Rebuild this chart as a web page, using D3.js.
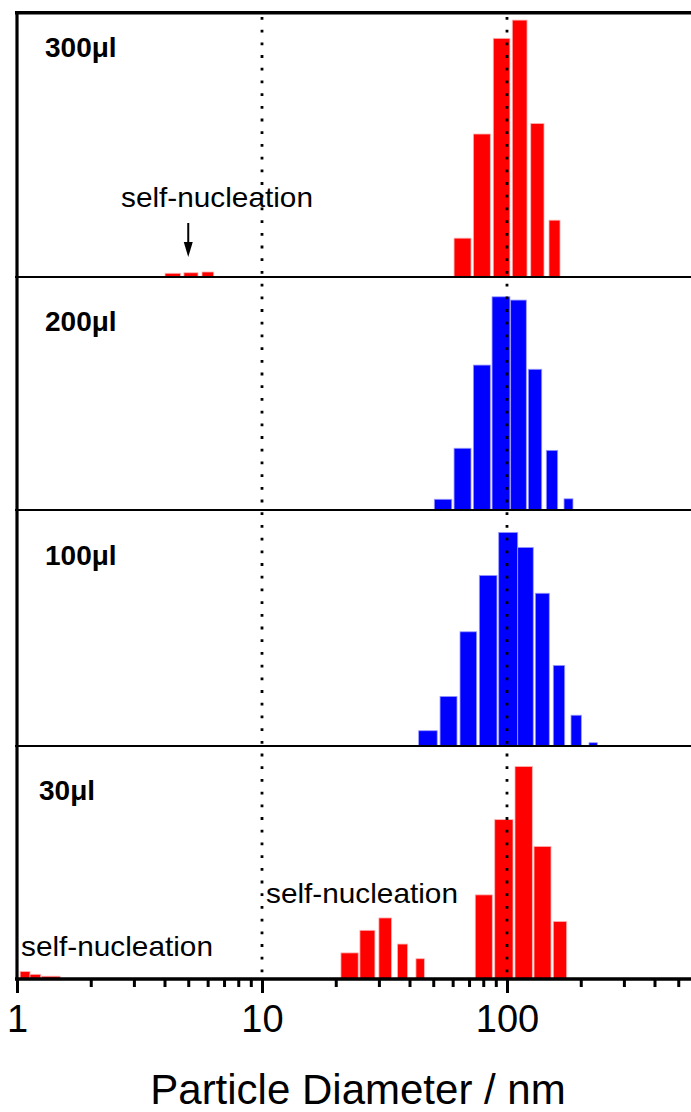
<!DOCTYPE html>
<html>
<head>
<meta charset="utf-8">
<script src="https://cdn.jsdelivr.net/npm/d3@7"></script>
<style>
  body { margin: 0; background: #fff; }
  svg { display: block; font-family: "Liberation Sans", Arial, sans-serif; }
</style>
</head>
<body>
<svg id="chart" width="691" height="1112"></svg>
<script>
// panel names, top to bottom
const volumes = ["300\u03bcl", "200\u03bcl", "100\u03bcl", "30\u03bcl"];
const barColors = ["#ff0000", "#0000ff", "#0000ff", "#ff0000"];

// bins: [lower, upper] particle diameter in nm, freq: % of panel full scale
const bins300 = [[4.02, 4.65], [4.80, 5.48], [5.69, 6.35],
  [60.8, 71.3], [72.9, 85.5], [87.9, 102.8], [105.1, 120.7], [125.0, 141.6], [148.4, 164.6]];
const freq300 = [1.4, 1.6, 1.9, 14.7, 54.1, 90.3, 97.2, 58.1, 21.5];

const bins200 = [[50.5, 59.5], [60.8, 71.3], [72.9, 85.5], [86.9, 102.8],
  [103.5, 119.9], [122.2, 138.6], [144.7, 161.0], [170.9, 185.9]];
const freq200 = [4.6, 26.5, 62.2, 91.5, 90.1, 60.4, 25.6, 4.8];

const bins100 = [[43.6, 51.9], [53.3, 62.5], [64.3, 75.2], [77.1, 91.0], [92.5, 110.6],
  [110.6, 128.0], [130.5, 148.8], [154.5, 172.0], [182.5, 201.1], [216.1, 233.7]];
const freq100 = [6.5, 21.1, 48.6, 72.6, 90.9, 84.5, 65.0, 34.3, 13.1, 1.4];

const bins30 = [[1.03, 1.13], [1.13, 1.25], [1.26, 1.50],
  [21.0, 24.7], [25.1, 28.9], [30.0, 33.8], [35.7, 39.3], [42.5, 46.0],
  [74.2, 87.1], [89.1, 105.8], [107.8, 126.9], [128.9, 151.2], [154.5, 175.2]];
const freq30 = [3.2, 2.0, 1.2, 11.2, 20.9, 26.2, 15.0, 8.7, 36.1, 68.4, 91.2, 56.9, 24.7];

const allBins = [bins300, bins200, bins100, bins30];
const allFreq = [freq300, freq200, freq100, freq30];

const majorTicks = [1, 10, 100];
const minorTicks = [2, 3, 4, 5, 6, 7, 8, 9, 20, 30, 40, 50, 60, 70, 80, 90, 200, 300, 400, 500, 600];
const guideLines = [10, 100];
const xTitle = "Particle Diameter / nm";
const noteText = "self-nucleation";

const svg = d3.select("#chart");
const W = 691;

// log x axis, the right end is cut off by the picture edge
const x = d3.scaleLog().domain([1, 1000]).range([17, 17 + 3 * 245]);

// panel edges (pixels)
const panelTop = [12.7, 277, 511, 746];
const panelBottom = [277, 510, 746, 979];

const barsG = svg.append("g");
volumes.forEach(function (name, i) {
  const y = d3.scaleLinear().domain([0, 100]).range([panelBottom[i], panelTop[i]]);
  const rows = allBins[i].map(function (b, j) { return {lo: b[0], hi: b[1], f: allFreq[i][j]}; });
  barsG.append("g")
    .selectAll("rect")
    .data(rows)
    .enter().append("rect")
      .attr("x", function (d) { return x(d.lo); })
      .attr("width", function (d) { return x(d.hi) - x(d.lo); })
      .attr("y", function (d) { return y(d.f); })
      .attr("height", function (d) { return y(0) - y(d.f); })
      .attr("fill", barColors[i])
      .attr("stroke", i == 0 || i == 3 ? "#ffb3b3" : "#9a9aff")
      .attr("stroke-width", 0.8);

  svg.append("text")
    .attr("x", i == 3 ? 39 : 45)
    .attr("y", i == 0 ? 57 : panelTop[i] + 54)
    .attr("font-size", 28)
    .attr("font-weight", "bold")
    .text(name);
});

// dotted guides at 10 and 100 nm
svg.append("g")
  .selectAll("line")
  .data(guideLines)
  .enter().append("line")
    .attr("x1", function (d) { return x(d); })
    .attr("x2", function (d) { return x(d); })
    .attr("y1", 17)
    .attr("y2", panelBottom[3])
    .attr("stroke", "#000")
    .attr("stroke-width", 2.8)
    .attr("stroke-dasharray", "2.8 9.9");

// frame: top border, dividers, left axis
svg.append("line").attr("x1", 15).attr("x2", W).attr("y1", panelTop[0]).attr("y2", panelTop[0])
  .attr("stroke", "#000").attr("stroke-width", 3.5);
svg.append("g")
  .selectAll("line")
  .data(panelBottom.slice(0, 3))
  .enter().append("line")
    .attr("x1", 15).attr("x2", W)
    .attr("y1", function (d) { return d; }).attr("y2", function (d) { return d; })
    .attr("stroke", "#000").attr("stroke-width", 2);
svg.append("line").attr("x1", x(1)).attr("x2", x(1)).attr("y1", panelTop[0] - 1.7).attr("y2", panelBottom[3])
  .attr("stroke", "#000").attr("stroke-width", 3.2);

// bottom axis
const axisMajor = d3.axisBottom(x).tickValues(majorTicks).tickSize(14).tickFormat(d3.format("d")).tickPadding(12);
const axisMinor = d3.axisBottom(x).tickValues(minorTicks).tickSize(8).tickFormat("");
const gMinor = svg.append("g").attr("transform", "translate(0," + panelBottom[3] + ")").call(axisMinor);
const gMajor = svg.append("g").attr("transform", "translate(0," + panelBottom[3] + ")").call(axisMajor);
[gMinor, gMajor].forEach(function (g) {
  g.select(".domain").attr("stroke-width", 3.2).attr("d", "M15,0H" + W);
  g.selectAll(".tick line").attr("stroke-width", 3);
});
gMajor.selectAll(".tick text")
  .attr("font-family", "'Liberation Sans', Arial, sans-serif")
  .attr("font-size", 38)
  .attr("fill", "#000");

svg.append("text")
  .attr("x", 358)
  .attr("y", 1104)
  .attr("text-anchor", "middle")
  .attr("font-size", 42)
  .text(xTitle);

// annotations
function note(px, py) {
  svg.append("text").attr("x", px).attr("y", py).attr("font-size", 28)
    .attr("textLength", 192).attr("lengthAdjust", "spacingAndGlyphs").text(noteText);
}
note(121, 207);
svg.append("line")
  .attr("x1", x(5)).attr("x2", x(5)).attr("y1", 223).attr("y2", 245)
  .attr("stroke", "#000").attr("stroke-width", 2);
svg.append("path")
  .attr("d", "M" + (x(5) - 4.5) + ",242L" + (x(5) + 4.5) + ",242L" + x(5) + ",257Z")
  .attr("fill", "#000");
note(266, 903);
note(21, 956);
</script>
</body>
</html>
